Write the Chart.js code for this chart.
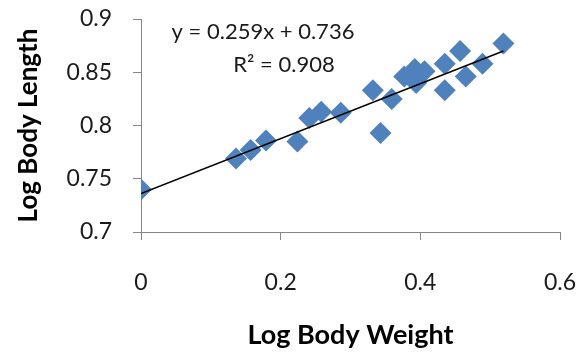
<!DOCTYPE html>
<html>
<head>
<meta charset="utf-8">
<script src="https://cdn.jsdelivr.net/npm/chart.js@4/dist/chart.umd.min.js"></script>
<style>
  html, body { margin: 0; padding: 0; background: #fff; }
  #wrap { width: 579px; height: 356px; position: relative; }
</style>
</head>
<body>
<div id="wrap"><canvas id="c" width="579" height="356"></canvas></div>
<script>
// ---- data ----
const logBodyWeight = [0.000, 0.136, 0.157, 0.179, 0.224, 0.241, 0.258, 0.286, 0.332, 0.343, 0.359,
                       0.377, 0.392, 0.406, 0.394, 0.435, 0.435, 0.457, 0.465, 0.489, 0.519];
const logBodyLength = [0.740, 0.769, 0.777, 0.786, 0.785, 0.807, 0.813, 0.812, 0.833, 0.793, 0.825,
                       0.846, 0.853, 0.851, 0.840, 0.858, 0.833, 0.870, 0.846, 0.858, 0.877];
const trendX = [0.000, 0.519];
const trendY = [0.736, 0.870];
const xTickLabels = ['0', '0.2', '0.4', '0.6'];
const yTickLabels = ['0.7', '0.75', '0.8', '0.85', '0.9'];
const equationText = 'y = 0.259x + 0.736';
const r2Text = 'R\u00B2 = 0.908';
const xTitle = 'Log Body Weight';
const yTitle = 'Log Body Length';

const points = logBodyWeight.map((x, i) => ({ x: x, y: logBodyLength[i] }));
const trend = trendX.map((x, i) => ({ x: x, y: trendY[i] }));

const FONT = 'Lato, "Open Sans", sans-serif';
const AXIS = '#868686';

const eqPlugin = {
  id: 'eq',
  afterDatasetsDraw(chart) {
    const ctx = chart.ctx;
    const a = chart.chartArea;
    ctx.save();
    ctx.fillStyle = '#1a1a1a';
    ctx.font = '22px ' + FONT;
    ctx.textAlign = 'center';
    ctx.textBaseline = 'middle';
    ctx.fillText(equationText, a.left + 122, a.top + 13);
    ctx.fillText(r2Text, a.left + 143, a.top + 46);
    ctx.restore();
  }
};

new Chart(document.getElementById('c'), {
  type: 'scatter',
  data: {
    datasets: [
      {
        type: 'line',
        data: trend,
        borderColor: '#000',
        borderWidth: 1.5,
        pointRadius: 0,
        fill: false,
        order: 0
      },
      {
        data: points,
        pointStyle: 'rectRot',
        pointRadius: 11,
        pointHoverRadius: 11,
        backgroundColor: '#4F81BD',
        borderColor: '#4F81BD',
        borderWidth: 0,
        order: 1
      }
    ]
  },
  options: {
    responsive: false,
    animation: false,
    devicePixelRatio: 1,
    layout: { padding: { left: 0, top: 19, right: 19, bottom: 0 } },
    plugins: { legend: { display: false }, tooltip: { enabled: false } },
    scales: {
      x: {
        type: 'linear',
        min: 0, max: 0.6,
        afterBuildTicks: s => { s.ticks = xTickLabels.map(v => ({ value: parseFloat(v) })); },
        afterFit: s => { s.height = 124; s.paddingLeft = 0; s.paddingRight = 0; },
        border: { display: true, color: AXIS, width: 1 },
        grid: { drawOnChartArea: false, drawTicks: true, tickLength: 8, color: AXIS },
        ticks: {
          padding: 29,
          color: '#1a1a1a',
          font: { family: FONT, size: 23, lineHeight: 1.2 },
          callback: (v, i) => xTickLabels[i]
        },
        title: {
          display: true, text: xTitle, color: '#000',
          font: { family: FONT, size: 27, weight: 'bold', lineHeight: 1.2 },
          padding: { top: 0, bottom: 5 }
        }
      },
      y: {
        type: 'linear',
        min: 0.7, max: 0.9,
        afterBuildTicks: s => { s.ticks = yTickLabels.map(v => ({ value: parseFloat(v) })); },
        afterFit: s => { s.width = 141; s.paddingTop = 0; s.paddingBottom = 0; },
        border: { display: true, color: AXIS, width: 1 },
        grid: { drawOnChartArea: false, drawTicks: true, tickLength: 8, color: AXIS },
        ticks: {
          padding: 21,
          color: '#1a1a1a',
          font: { family: FONT, size: 23, lineHeight: 1.2 },
          callback: (v, i) => yTickLabels[i]
        },
        title: {
          display: true, text: yTitle, color: '#000',
          font: { family: FONT, size: 26, weight: 'bold', lineHeight: 1.2 },
          padding: { top: 13, bottom: 0 }
        }
      }
    }
  },
  plugins: [eqPlugin]
});
</script>
</body>
</html>
